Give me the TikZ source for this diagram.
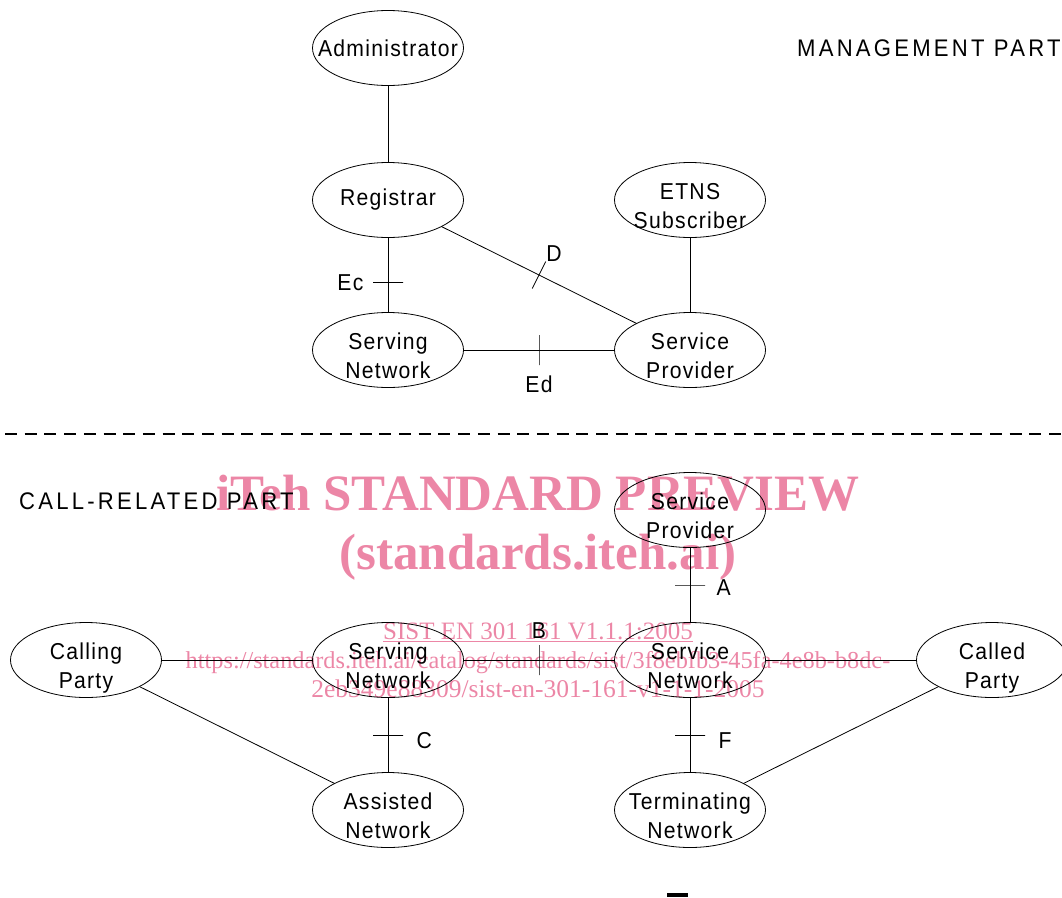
\documentclass[tikz,border=0pt]{standalone}
\usepackage{fontspec}
\setmainfont{Liberation Sans}
\newfontfamily\ndfont[LetterSpace=5.5,FakeStretch=0.92]{Liberation Sans}
\newfontfamily\hdfont[LetterSpace=13.5,FakeStretch=0.92]{Liberation Sans}
\newfontfamily\wmfont{Liberation Serif}
\usetikzlibrary{shapes,positioning}
\definecolor{wmpink}{RGB}{236,134,166}

\begin{document}
\begin{tikzpicture}[x=1pt,y=-1pt]

\tikzset{entity/.style = {shape=ellipse,draw,line width=0.8pt,minimum width=151,minimum height=75,inner xsep=-20pt,inner ysep=-10pt,align=center,font=\ndfont\fontsize{23}{28.5}\selectfont}}
\tikzset{pair/.style = {entity,text height=56pt,text depth=0pt}}
\tikzset{link/.style = {line width=0.8pt}}
\tikzset{htick/.style = {shape=rectangle,draw,line width=0.8pt,minimum width=30,minimum height=0,inner sep=0}}
\tikzset{vtick/.style = {shape=rectangle,draw,line width=0.8pt,minimum width=0,minimum height=30,inner sep=0}}
\tikzset{lbl/.style = {inner sep=0,font=\ndfont\fontsize{23}{28}\selectfont}}
\tikzset{part/.style = {inner sep=0,anchor=west,font=\hdfont\fontsize{24}{28}\selectfont}}

\useasboundingbox (0,0) rectangle (1062,897);

% management part
\node[entity] (adm) at (388,48) {Administrator};
\node[entity] (reg) at (388,200) {Registrar};
\node[pair] (etns) at (690,200) {ETNS\\Subscriber};
\node[pair] (sn1) at (388,350) {Serving\\Network};
\node[pair] (sp1) at (690,350) {Service\\Provider};
\node[part] (mgmt) at (797,48) {MANAGEMENT PART};

% call-related part
\node[pair] (sp2) at (690,510) {Service\\Provider};
\node[pair] (cgp) at (86,660) {Calling\\Party};
\node[pair] (sn2) at (388,660) {Serving\\Network};
\node[pair] (svn) at (690,660) {Service\\Network};
\node[pair] (cdp) at (992,660) {Called\\Party};
\node[pair] (asn) at (388,810) {Assisted\\Network};
\node[pair] (tmn) at (690,810) {Terminating\\Network};
\node[part] (call) at (19,501) {CALL-RELATED PART};

% separator
\draw[line width=1.2pt,dash pattern=on 12pt off 7.7pt] (5,434) -- (1062,434);

%edges
\draw[link] (adm) -- (reg);
\draw[link] (reg) -- node[htick,pos=.6] (tEc) {} (sn1);
\draw[link] (reg) -- node[vtick,sloped] (tD) {} (sp1);
\draw[link] (sn1) -- node[vtick] (tEd) {} (sp1);
\draw[link] (etns) -- (sp1);

\draw[link] (sp2) -- node[htick] (tA) {} (svn);
\draw[link] (cgp) -- (sn2);
\draw[link] (sn2) -- node[vtick] (tB) {} (svn);
\draw[link] (svn) -- (cdp);
\draw[link] (cgp) -- (asn);
\draw[link] (sn2) -- node[htick] (tC) {} (asn);
\draw[link] (svn) -- node[htick] (tF) {} (tmn);
\draw[link] (tmn) -- (cdp);

% reference points
\node[lbl,left=9pt of tEc] {Ec};
\node[lbl,above right=0pt of tD] {D};
\node[lbl,below=10pt of tEd] {Ed};
\node[lbl,right=11pt of tA,yshift=-3pt] {A};
\node[lbl,above=6pt of tB] {B};
\node[lbl,right=13pt of tC,yshift=-6pt] {C};
\node[lbl,right=13pt of tF,yshift=-6pt] {F};

\fill (667,893) rectangle (688,897);

% watermark
\begin{scope}[blend mode=multiply]
\node[anchor=base,text=wmpink,font=\wmfont\bfseries\fontsize{51}{51}\selectfont] (wm1) at (538,510) {iTeh STANDARD PREVIEW};
\node[anchor=base,text=wmpink,font=\wmfont\bfseries\fontsize{51}{51}\selectfont] (wm2) at (538,569) {(standards.iteh.ai)};
\node[anchor=base,text=wmpink,font=\wmfont\fontsize{25}{25}\selectfont] (wm3) at (538,639) {\underline{SIST EN 301 161 V1.1.1:2005}};
\node[anchor=base,text=wmpink,font=\wmfont\fontsize{24.3}{25}\selectfont] (wm4) at (538,668) {https://standards.iteh.ai/catalog/standards/sist/3f8ebfb3-45fa-4e8b-b8dc-};
\node[anchor=base,text=wmpink,font=\wmfont\fontsize{25.5}{25}\selectfont] (wm5) at (538,697) {2eb349e88309/sist-en-301-161-v1-1-1-2005};
\end{scope}
\end{tikzpicture}
\end{document}
